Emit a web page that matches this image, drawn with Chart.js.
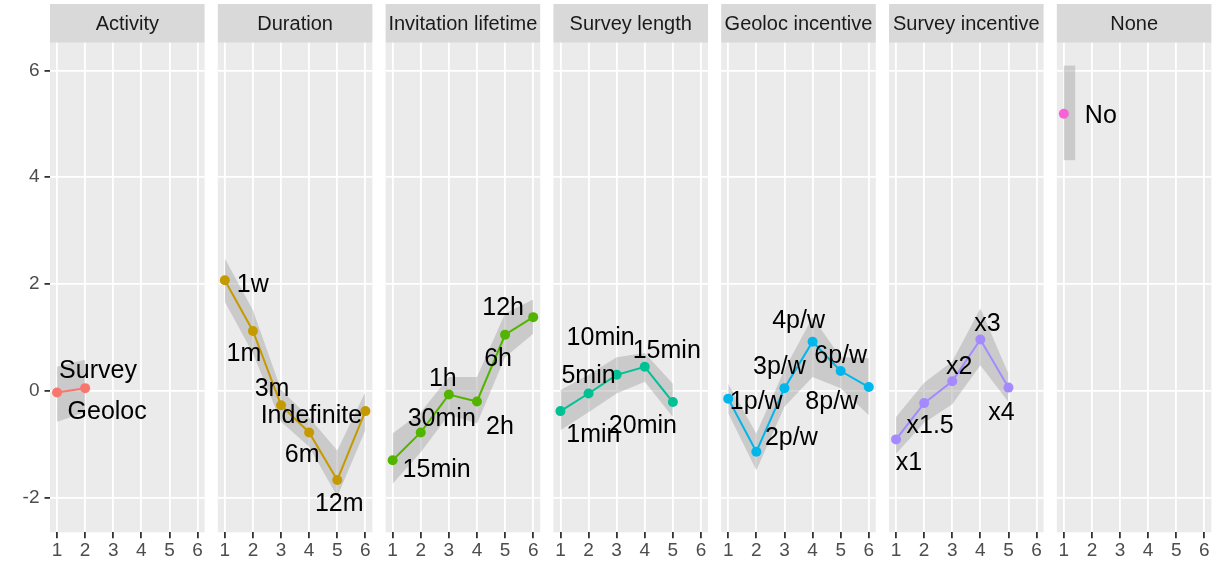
<!DOCTYPE html>
<html>
<head>
<meta charset="utf-8">
<script src="https://cdn.jsdelivr.net/npm/chart.js@4/dist/chart.umd.min.js"></script>
<style>
  html, body { margin: 0; padding: 0; background: #ffffff; }
  body { width: 1230px; height: 562px; position: relative; overflow: hidden; }
  canvas { position: absolute; left: 0; top: 0; }
</style>
</head>
<body>
<script>
// ---- facets, ticks ----
const facetNames = ['Activity', 'Duration', 'Invitation lifetime', 'Survey length', 'Geoloc incentive', 'Survey incentive', 'None'];
const facetColors = ['#F8766D', '#C49A00', '#53B400', '#00C094', '#00B6EB', '#A58AFF', '#FB61D7'];
const xTicks = [1, 2, 3, 4, 5, 6];
const yTicks = [-2, 0, 2, 4, 6];

// ---- estimates and interval bounds per attribute ----
const activityLevels = ['Survey', 'Geoloc'];
const activityEffect = [-0.03, 0.05];
const activityLower = [-0.58, -0.40];
const activityUpper = [0.45, 0.58];

const durationLevels = ['1w', '1m', '3m', '6m', '12m', 'Indefinite'];
const durationEffect = [2.07, 1.12, -0.27, -0.78, -1.67, -0.38];
const durationLower = [1.67, 0.70, -0.58, -1.05, -1.98, -0.74];
const durationUpper = [2.48, 1.51, 0.02, -0.50, -1.12, -0.02];

const lifetimeLevels = ['15min', '30min', '1h', '2h', '6h', '12h'];
const lifetimeEffect = [-1.30, -0.78, -0.07, -0.20, 1.05, 1.38];
const lifetimeLower = [-1.74, -1.15, -0.45, -0.61, 0.63, 1.07];
const lifetimeUpper = [-0.80, -0.40, 0.26, 0.26, 1.45, 1.71];

const lengthLevels = ['1min', '5min', '10min', '15min', '20min'];
const lengthEffect = [-0.38, -0.05, 0.30, 0.45, -0.21];
const lengthLower = [-0.74, -0.40, -0.05, 0.17, -0.49];
const lengthUpper = [0.01, 0.30, 0.63, 0.71, 0.13];

const geolocLevels = ['1p/w', '2p/w', '3p/w', '4p/w', '6p/w', '8p/w'];
const geolocEffect = [-0.15, -1.14, 0.05, 0.92, 0.37, 0.07];
const geolocLower = [-0.42, -1.49, -0.30, 0.26, 0.05, -0.46];
const geolocUpper = [0.13, -0.80, 0.40, 1.38, 0.63, 0.61];

const incentiveLevels = ['x1', 'x1.5', 'x2', 'x3', 'x4'];
const incentiveEffect = [-0.91, -0.23, 0.18, 0.96, 0.06];
const incentiveLower = [-1.18, -0.60, -0.25, 0.48, -0.21];
const incentiveUpper = [-0.49, 0.15, 0.55, 1.54, 0.32];

const noneLevels = ['No'];
const noneEffect = [5.19];
const noneLower = [4.32];
const noneUpper = [6.09];

// ---- label placement (pixel nudges from each point) ----
const activityNudge = [[41, -23], [22, 22]];
const durationNudge = [[28, 3], [-9, 21], [-9, -18], [-7, 21], [2, 22], [-54, 3]];
const lifetimeNudge = [[44, 8], [21, -15], [-6, -18], [23, 24], [-7, 22], [-30, -11]];
const lengthNudge = [[33, 22], [0, -19], [-16, -39], [22, -18], [-30, 22]];
const geolocNudge = [[28, 1], [35, -16], [-5, -23], [-14, -23], [0, -17], [-37, 13]];
const incentiveNudge = [[13, 22], [6, 21], [7, -16], [7, -18], [-7, 23]];
const noneNudge = [[37, 0]];

const facets = [
  { levels: activityLevels, effect: activityEffect, lower: activityLower, upper: activityUpper, nudge: activityNudge },
  { levels: durationLevels, effect: durationEffect, lower: durationLower, upper: durationUpper, nudge: durationNudge },
  { levels: lifetimeLevels, effect: lifetimeEffect, lower: lifetimeLower, upper: lifetimeUpper, nudge: lifetimeNudge },
  { levels: lengthLevels, effect: lengthEffect, lower: lengthLower, upper: lengthUpper, nudge: lengthNudge },
  { levels: geolocLevels, effect: geolocEffect, lower: geolocLower, upper: geolocUpper, nudge: geolocNudge },
  { levels: incentiveLevels, effect: incentiveEffect, lower: incentiveLower, upper: incentiveUpper, nudge: incentiveNudge },
  { levels: noneLevels, effect: noneEffect, lower: noneLower, upper: noneUpper, nudge: noneNudge }
];

// ---- layout ----
const W = 1230, H = 562;
const PANEL_LEFT = 50, PANEL_STEP = 167.8, PANEL_W = 154.6;
const PANEL_TOP = 42.7, PANEL_BOTTOM = 532.3, STRIP_TOP = 4;
const FONT = '"Liberation Sans", Arial, Helvetica, sans-serif';
const BAND = 'rgba(153,153,153,0.4)';

// panel background, facet strip, single-level interval and level labels
const facetPlugin = {
  id: 'facetDecor',
  beforeDraw(chart, args, opts) {
    const { ctx, chartArea: a } = chart;
    ctx.save();
    ctx.fillStyle = '#ebebeb';
    ctx.fillRect(a.left, a.top, a.right - a.left, a.bottom - a.top);
    ctx.fillStyle = '#d9d9d9';
    ctx.fillRect(a.left, STRIP_TOP, a.right - a.left, a.top - STRIP_TOP);
    ctx.fillStyle = '#1a1a1a';
    ctx.font = '20px ' + FONT;
    ctx.textAlign = 'center';
    ctx.textBaseline = 'middle';
    ctx.fillText(opts.title, (a.left + a.right) / 2, (STRIP_TOP + a.top) / 2 + 1);
    ctx.restore();
  },
  beforeDatasetsDraw(chart, args, opts) {
    const f = opts.facet;
    if (f.levels.length !== 1) return;
    const { ctx, scales: { x, y } } = chart;
    const px = x.getPixelForValue(1);
    const top = y.getPixelForValue(f.upper[0]);
    const bot = y.getPixelForValue(f.lower[0]);
    ctx.save();
    ctx.fillStyle = BAND;
    ctx.fillRect(px, top, 11.4, bot - top);
    ctx.restore();
  },
  afterDatasetsDraw(chart, args, opts) {
    const f = opts.facet;
    const pts = chart.getDatasetMeta(0).data;
    const { ctx } = chart;
    ctx.save();
    ctx.fillStyle = '#000000';
    ctx.font = '25px ' + FONT;
    ctx.textAlign = 'center';
    ctx.textBaseline = 'alphabetic';
    f.levels.forEach((name, k) => {
      const p = pts[k];
      const [dx, dy] = f.nudge[k];
      ctx.fillText(name, p.x + dx, p.y + dy + 9);
    });
    ctx.restore();
  }
};

facets.forEach((f, i) => {
  const canvas = document.createElement('canvas');
  canvas.width = W;
  canvas.height = H;
  canvas.style.width = W + 'px';
  canvas.style.height = H + 'px';
  document.body.appendChild(canvas);

  const left = PANEL_LEFT + i * PANEL_STEP;
  const right = left + PANEL_W;
  const first = i === 0;
  const pts = arr => arr.map((v, k) => ({ x: k + 1, y: v }));
  const color = facetColors[i];

  new Chart(canvas, {
    type: 'line',
    data: {
      datasets: [
        { data: pts(f.effect), borderColor: color, backgroundColor: color, borderWidth: 2,
          pointRadius: 5, pointBorderWidth: 0, pointBackgroundColor: color, fill: false },
        { data: pts(f.lower), borderWidth: 0, pointRadius: 0, fill: false, borderColor: 'rgba(0,0,0,0)' },
        { data: pts(f.upper), borderWidth: 0, pointRadius: 0, fill: '-1', backgroundColor: BAND, borderColor: 'rgba(0,0,0,0)' }
      ]
    },
    options: {
      responsive: false,
      animation: false,
      devicePixelRatio: 1,
      events: [],
      layout: { padding: { left: first ? 0 : left, right: W - right, top: PANEL_TOP, bottom: 0 } },
      scales: {
        x: {
          type: 'linear', min: 0.75, max: 6.25,
          afterBuildTicks: s => { s.ticks = xTicks.map(v => ({ value: v })); },
          afterFit: s => { s.height = H - PANEL_BOTTOM; },
          border: { display: false },
          grid: { color: '#ffffff', lineWidth: 1.8, drawTicks: true, tickLength: 6, tickColor: '#333333', tickWidth: 1.8 },
          ticks: { color: '#4d4d4d', font: { family: FONT, size: 19 }, padding: 1, maxRotation: 0, autoSkip: false }
        },
        y: {
          type: 'linear', min: -2.65, max: 6.52,
          afterBuildTicks: s => { s.ticks = yTicks.map(v => ({ value: v })); },
          afterFit: s => { s.width = first ? PANEL_LEFT : 0; },
          border: { display: false },
          grid: { color: '#ffffff', lineWidth: 1.8, drawTicks: first, tickLength: 5.5, tickColor: '#333333', tickWidth: 1.8 },
          ticks: { display: first, color: '#4d4d4d', font: { family: FONT, size: 19 }, padding: 5 }
        }
      },
      plugins: {
        legend: { display: false },
        tooltip: { enabled: false },
        facetDecor: { title: facetNames[i], facet: f }
      }
    },
    plugins: [facetPlugin]
  });
});
</script>
</body>
</html>
